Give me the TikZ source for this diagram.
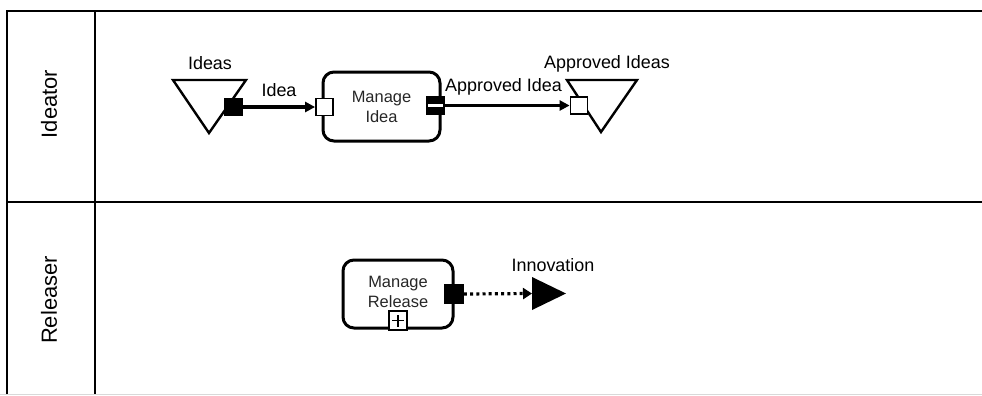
\documentclass[tikz,border=0pt]{standalone}
\usepackage{fontspec}
\setmainfont{Liberation Sans}
\usetikzlibrary{arrows.meta}
\begin{document}
\begin{tikzpicture}[x=1bp,y=-1bp,
  lane/.style={line width=2.5bp,black},
  lanelabel/.style={rotate=90,font=\fontsize{22}{26}\selectfont},
  lbl/.style={font=\fontsize{18}{21}\selectfont,inner sep=0pt},
  task/.style={draw,line width=3bp,rounded corners=11bp,align=center,
    font=\fontsize{16.5}{20}\selectfont,text=black!85,inner sep=0pt},
  store/.style={line width=2.4bp,line join=miter},
  wport/.style={draw,line width=1.8bp,fill=white,minimum size=17bp,inner sep=0pt},
  bport/.style={draw,line width=1.8bp,fill=black,minimum size=17bp,inner sep=0pt},
  flow/.style={line width=3.1bp,-{Triangle[length=10bp,width=10bp]}},
  dflow/.style={line width=3.2bp,dash pattern=on 3bp off 3.2bp,-{Triangle[length=9bp,width=11bp]}}
]
\useasboundingbox (0,0) rectangle (982,395);
% lanes
\draw[black!15,line width=1bp] (0,394) -- (982,394);
\draw[lane] (7,394) -- (7,11) -- (982,11);
\draw[lane] (95,11) -- (95,394);
\draw[lane] (7,202) -- (982,202);
\node[lanelabel] (l1) at (49,104) {Ideator};
\node[lanelabel] (l2) at (49,300) {Releaser};
% Ideas store
\draw[store] (173,80) -- (246,80) -- (209,133) -- cycle;
\node[lbl] (ideas) at (210,63) {Ideas};
\node[bport] (p1) at (233.5,107) {};
% Manage Idea
\node[task,minimum width=117bp,minimum height=69bp] (mi) at (381.5,106.5) {Manage\\Idea};
\node[wport] (p2) at (324.5,107) {};
\node[bport,path picture={\fill[white] ([yshift=-1.8bp]path picture bounding box.west) rectangle ([yshift=1.8bp]path picture bounding box.east);}] (p3) at (435.5,105.5) {};
% Approved Ideas store
\draw[store] (567,80) -- (637,80) -- (601,132) -- cycle;
\node[lbl] (aideas) at (607,64) {Approved Ideas};
\node[wport] (p4) at (579,105.5) {};
% flows
\draw[flow] (p1.east) -- (p2.west) node[lbl,midway,above=9bp] (f1) {Idea};
\draw[flow] (p3.east) -- (p4.west) node[lbl,pos=0.47,above=9bp] (f2) {Approved Idea};
% Manage Release
\node[task,minimum width=110bp,minimum height=68bp] (mr) at (398,294) {};
\node[font=\fontsize{16.5}{20}\selectfont,text=black!85,align=center,inner sep=0pt] (mrt) at (398,292) {Manage\\Release};
\node[wport,minimum width=18bp,minimum height=19bp,
  path picture={\draw[line width=1.8bp] ([xshift=-6bp]path picture bounding box.center) -- ([xshift=6bp]path picture bounding box.center);
                \draw[line width=1.8bp] ([yshift=-6bp]path picture bounding box.center) -- ([yshift=6bp]path picture bounding box.center);}] (plus) at (398,320.5) {};
\node[bport,minimum size=18bp] (p5) at (454,294) {};
% Innovation event
\coordinate (innov) at (532,293.5);
\fill[black] (532,277) -- (566,293.5) -- (532,310) -- cycle;
\node[lbl] (innovl) at (553,265) {Innovation};
\draw[dflow] (p5.east) -- (innov);
\end{tikzpicture}
\end{document}
